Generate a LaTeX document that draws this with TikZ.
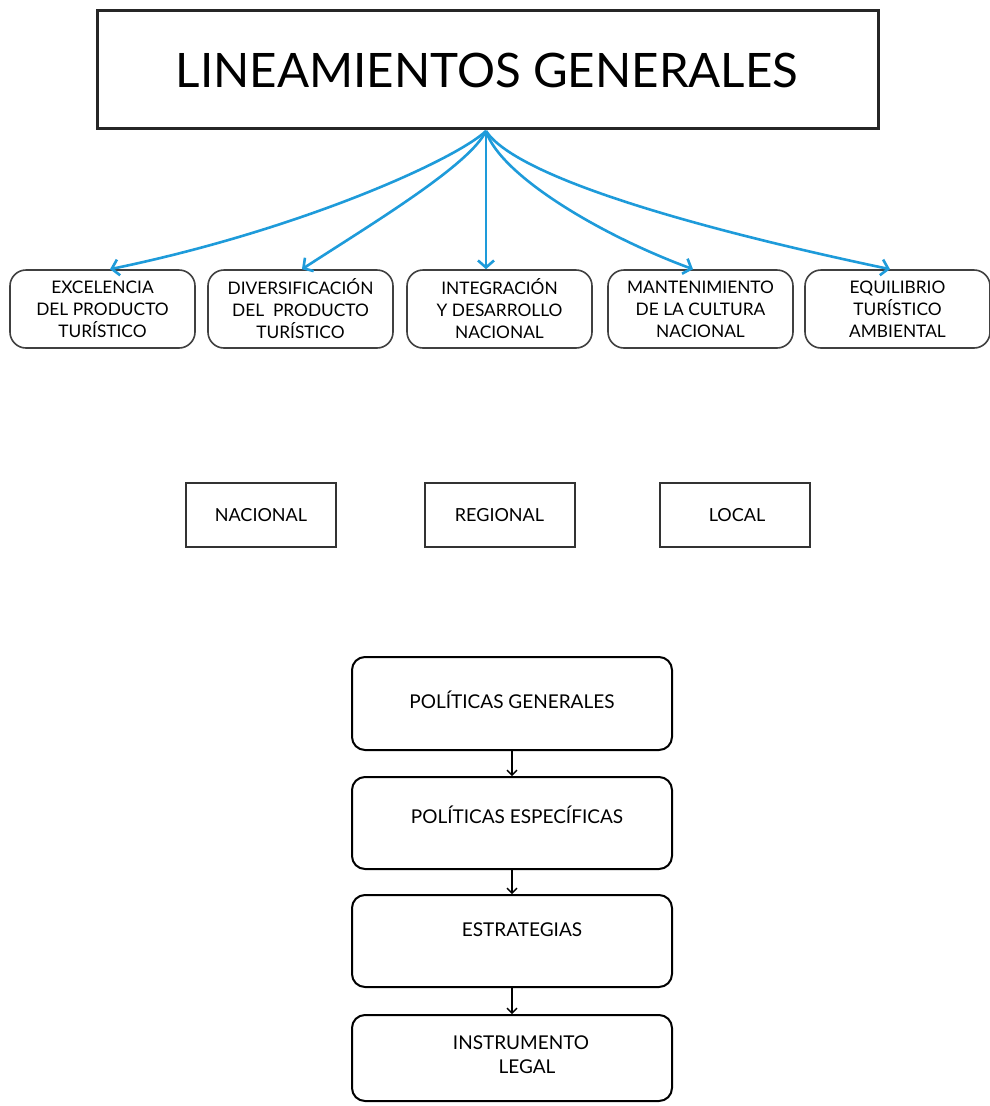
\documentclass[tikz,border=0pt]{standalone}
\usepackage{fontspec}
\setmainfont{Lato}
\usetikzlibrary{arrows.meta}
\definecolor{arrowblue}{RGB}{30,155,218}
\tikzset{
  titlebox/.style={draw=black!85, line width=3pt, minimum width=781pt, minimum height=118pt, inner sep=0pt},
  themebox/.style={draw=black!75, line width=1.6pt, rounded corners=16pt, minimum width=185pt, minimum height=78pt, align=center, font=\fontsize{17.3}{22}\selectfont, inner sep=0pt},
  levelbox/.style={draw=black!80, line width=2pt, minimum width=150pt, minimum height=64pt, font=\fontsize{18}{20}\selectfont, inner sep=0pt},
  flowbox/.style={draw=black, line width=2pt, rounded corners=13pt, minimum width=320pt, inner sep=0pt},
  flowtext/.style={font=\fontsize{19}{24}\selectfont, align=center, inner sep=0pt},
  bluearrow/.style={draw=arrowblue, line width=2.6pt, -{Straight Barb[length=7pt,width=16pt,line width=2.6pt]}},
  blackarrow/.style={draw=black, line width=1.3pt, -{Straight Barb[length=5pt,width=10pt,line width=1.3pt]}}
}
\begin{document}
\begin{tikzpicture}[x=1pt,y=-1pt]
\useasboundingbox[fill=white] (0,0) rectangle (990,1106);
% title
\node[titlebox] (title) at (487.5,69) {};
\node[font=\fontsize{47.5}{56}\selectfont, inner sep=0pt] (titletext) at (487,70) {LINEAMIENTOS GENERALES};
\coordinate (src) at (486,131);
% themes
\node[themebox] (t1) at (102.5,309) {EXCELENCIA\\DEL PRODUCTO\\TURÍSTICO};
\node[themebox] (t2) at (300.5,309) {DIVERSIFICACIÓN\\DEL\ \ PRODUCTO\\TURÍSTICO};
\node[themebox] (t3) at (499.5,309) {INTEGRACIÓN\\Y DESARROLLO\\NACIONAL};
\node[themebox] (t4) at (700.5,309) {MANTENIMIENTO\\DE LA CULTURA\\NACIONAL};
\node[themebox] (t5) at (897.5,309) {EQUILIBRIO\\TURÍSTICO\\AMBIENTAL};
% blue connectors
\draw[bluearrow] (src) .. controls (455,160) and (300,230) .. (t1.north -| 110,0);
\draw[bluearrow] (src) .. controls (470,165) and (370,225) .. (t2.north -| 302,0);
\draw[bluearrow] (src) -- (t3.north -| src);
\draw[bluearrow] (src) .. controls (500,175) and (600,235) .. (t4.north -| 693,0);
\draw[bluearrow] (src) .. controls (515,175) and (680,225) .. (t5.north -| 890,0);
% levels
\node[levelbox] (nac) at (261,515) {NACIONAL};
\node[levelbox] (reg) at (499.5,515) {REGIONAL};
\node[levelbox] (loc) at (735,515) {\hspace*{4pt}LOCAL};
% flow
\node[flowbox, minimum height=93pt] (f1) at (512,703.5) {};
\node[flowbox, minimum height=92pt] (f2) at (512,823) {};
\node[flowbox, minimum height=92pt] (f3) at (512,941) {};
\node[flowbox, minimum height=86pt] (f4) at (512,1058) {};
\node[flowtext] (f1t) at (512,700) {POLÍTICAS GENERALES};
\node[flowtext] (f2t) at (517,815) {POLÍTICAS ESPECÍFICAS};
\node[flowtext] (f3t) at (522,930) {ESTRATEGIAS};
\node[flowtext] (f4t) at (521,1055) {INSTRUMENTO\\\hspace*{12pt}LEGAL};
\draw[blackarrow] (f1.south) -- (f2.north);
\draw[blackarrow] (f2.south) -- (f3.north);
\draw[blackarrow] (f3.south) -- (f4.north);
\end{tikzpicture}
\end{document}
